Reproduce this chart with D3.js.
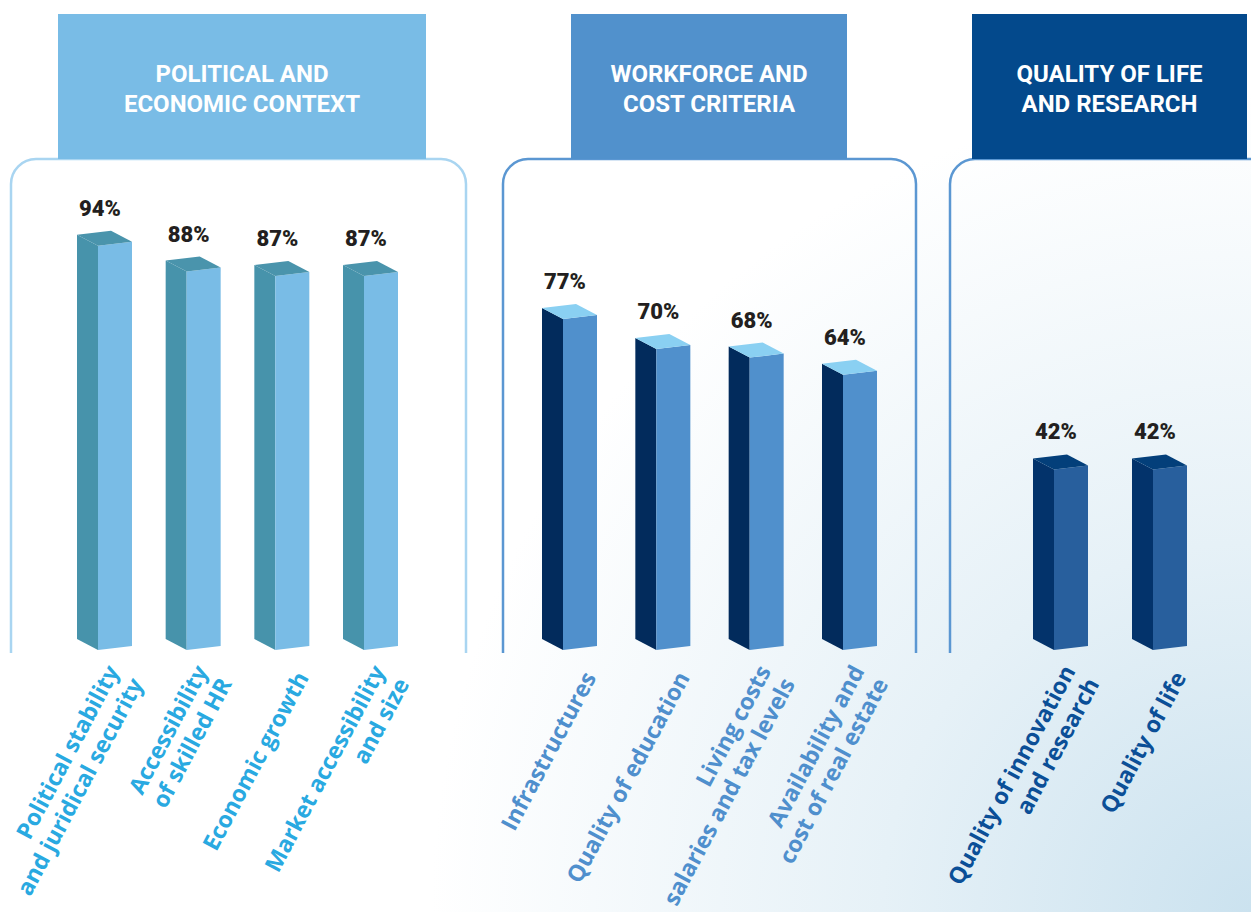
<!DOCTYPE html>
<html>
<head>
<meta charset="utf-8">
<script src="https://cdn.jsdelivr.net/npm/d3@7"></script>
<style>
  body { margin: 0; background: #fff; }
  svg { display: block; }
</style>
</head>
<body>
<div id="my_dataviz"></div>
<script>
// data
var headerTitles = [
    ["POLITICAL AND", "ECONOMIC CONTEXT"],
    ["WORKFORCE AND", "COST CRITERIA"],
    ["QUALITY OF LIFE", "AND RESEARCH"]
];
var politicalLabels = [["Political stability", "and juridical security"], ["Accessibility", "of skilled HR"], ["Economic growth"], ["Market accessibility", "and size"]];
var politicalValues = [94, 88, 87, 87];
var workforceLabels = [["Infrastructures"], ["Quality of education"], ["Living costs", "salaries and tax levels"], ["Availability and", "cost of real estate"]];
var workforceValues = [77, 70, 68, 64];
var qualityLabels = [["Quality of innovation", "and research"], ["Quality of life"]];
var qualityValues = [42, 42];

var width = 1251, height = 912;
var baseY = 650;          // bottom of the front faces
var boxTop = 159, boxBottom = 653;

// panel layout + styles
var panels = [
    { title: headerTitles[0], labels: politicalLabels, values: politicalValues,
      box: [11, 466], head: [58, 426], bars: [98, 364],
      headFill: "#79bce6", stroke: "#a9d5f1",
      front: "#79bce6", side: "#4793ab", top: "#4a94ac", text: "#29a9e1" },
    { title: headerTitles[1], labels: workforceLabels, values: workforceValues,
      box: [503, 916], head: [571, 847], bars: [563, 843],
      headFill: "#5191cc", stroke: "#5b97d2",
      front: "#5090cc", side: "#022b5c", top: "#8ad0f2", text: "#4f8fcd" },
    { title: headerTitles[2], labels: qualityLabels, values: qualityValues,
      box: [950, 1320], head: [972, 1247], bars: [1054, 1153],
      headFill: "#03498c", stroke: "#5b97d2",
      front: "#285f9d", side: "#03336b", top: "#033f7a", text: "#0b4f97" }
];

var svg = d3.select("#my_dataviz")
    .append("svg")
    .attr("width", width)
    .attr("height", height);

// soft blue background towards bottom right
var defs = svg.append("defs");
var grad = defs.append("radialGradient")
    .attr("id", "bg")
    .attr("gradientUnits", "userSpaceOnUse")
    .attr("cx", 1251).attr("cy", 912).attr("r", 820);
grad.append("stop").attr("offset", "0%").attr("stop-color", "#cbe2ef");
grad.append("stop").attr("offset", "45%").attr("stop-color", "#e6f1f7");
grad.append("stop").attr("offset", "100%").attr("stop-color", "#ffffff");

svg.append("rect")
    .attr("width", width)
    .attr("height", height)
    .attr("fill", "url(#bg)");

// value scale, shared by all panels
var y = d3.scaleLinear()
    .domain([0, 100])
    .range([baseY, baseY - 430]);

var frontW = 34, slope = 4, depthX = 21, depthY = 11;
var angle = -62, lineH = 27;
var rad = angle * Math.PI / 180;
var nx = -Math.sin(rad), ny = Math.cos(rad);   // "next line" direction

panels.forEach(function(p) {
    var g = svg.append("g");
    var r = 25;

    // rounded box, open at the bottom
    g.append("path")
        .attr("d", "M" + p.box[0] + "," + boxBottom +
            " V" + (boxTop + r) +
            " A" + r + "," + r + " 0 0 1 " + (p.box[0] + r) + "," + boxTop +
            " H" + (p.box[1] - r) +
            " A" + r + "," + r + " 0 0 1 " + p.box[1] + "," + (boxTop + r) +
            " V" + boxBottom)
        .attr("fill", "none")
        .attr("stroke", p.stroke)
        .attr("stroke-width", 2.5);

    // header block
    g.append("rect")
        .attr("x", p.head[0])
        .attr("y", 14)
        .attr("width", p.head[1] - p.head[0])
        .attr("height", boxTop - 14)
        .attr("fill", p.headFill);

    g.append("text")
        .attr("x", (p.head[0] + p.head[1]) / 2)
        .attr("y", 82)
        .attr("text-anchor", "middle")
        .attr("font-family", "Roboto, sans-serif")
        .attr("font-weight", "bold")
        .attr("font-size", "24px")
        .attr("fill", "#fff")
        .selectAll("tspan")
        .data(p.title)
        .enter()
        .append("tspan")
        .attr("x", (p.head[0] + p.head[1]) / 2)
        .attr("dy", function(d, i) { return i == 0 ? 0 : 30; })
        .text(function(d) { return d; });

    // x positions of the front-left edge of each bar
    var x = d3.scalePoint()
        .domain(d3.range(p.values.length))
        .range(p.bars);

    var bars = g.selectAll(".bar")
        .data(p.values)
        .enter()
        .append("g")
        .attr("class", "bar");

    // side face
    bars.append("path")
        .attr("fill", p.side)
        .attr("d", function(d, i) {
            var fx = x(i), yt = y(d);
            return "M" + (fx - depthX) + "," + (yt - depthY) +
                "L" + fx + "," + yt +
                "L" + fx + "," + baseY +
                "L" + (fx - depthX) + "," + (baseY - depthY) + "Z";
        });

    // front face
    bars.append("path")
        .attr("fill", p.front)
        .attr("d", function(d, i) {
            var fx = x(i), yt = y(d);
            return "M" + fx + "," + yt +
                "L" + (fx + frontW) + "," + (yt - slope) +
                "L" + (fx + frontW) + "," + (baseY - slope) +
                "L" + fx + "," + baseY + "Z";
        });

    // top face
    bars.append("path")
        .attr("fill", p.top)
        .attr("d", function(d, i) {
            var fx = x(i), yt = y(d);
            return "M" + (fx - depthX) + "," + (yt - depthY) +
                "L" + (fx - depthX + frontW) + "," + (yt - depthY - slope) +
                "L" + (fx + frontW) + "," + (yt - slope) +
                "L" + fx + "," + yt + "Z";
        });

    // value labels
    bars.append("text")
        .attr("x", function(d, i) { return x(i) + 2; })
        .attr("y", function(d) { return y(d) - 30; })
        .attr("text-anchor", "middle")
        .attr("font-family", "Roboto, sans-serif")
        .attr("font-weight", "900")
        .attr("font-size", "22px")
        .attr("fill", "#231f20")
        .text(function(d) { return d + "%"; });

    // rotated category labels
    g.selectAll(".cat")
        .data(p.labels)
        .enter()
        .append("text")
        .attr("class", "cat")
        .attr("transform", function(d, i) {
            var shift = d.length == 1 ? lineH / 2 : 0;
            var bx = x(i) + 22 + nx * shift,
                by = 671 + ny * shift;
            return "translate(" + bx + "," + by + ") rotate(" + angle + ")";
        })
        .attr("text-anchor", "end")
        .attr("font-family", "'Open Sans', sans-serif")
        .attr("font-weight", "bold")
        .attr("font-size", "23px")
        .attr("fill", p.text)
        .selectAll("tspan")
        .data(function(d) { return d; })
        .enter()
        .append("tspan")
        .attr("x", 0)
        .attr("y", function(d, i) { return i * lineH; })
        .text(function(d) { return d; });
});
</script>
</body>
</html>
